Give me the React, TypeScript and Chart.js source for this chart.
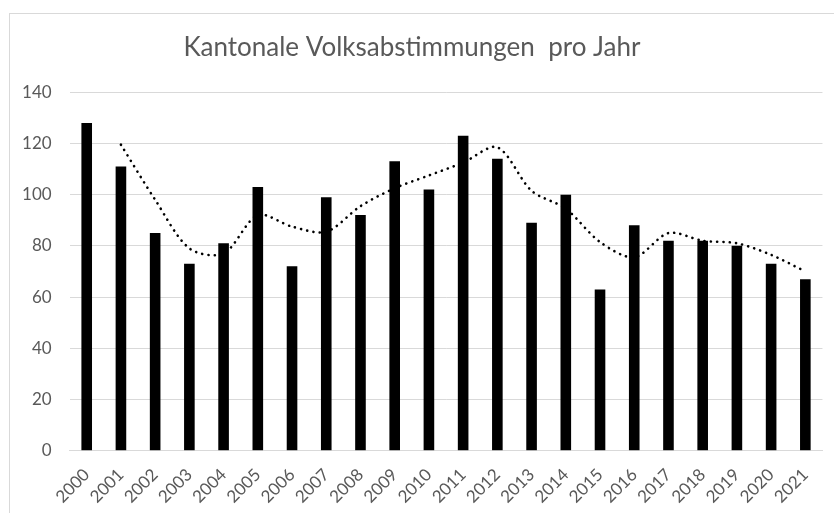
import React, { useEffect, useRef } from "react";
import { Chart, registerables } from "chart.js";

Chart.register(...registerables);

const years = ["2000","2001","2002","2003","2004","2005","2006","2007","2008","2009","2010","2011","2012","2013","2014","2015","2016","2017","2018","2019","2020","2021"];
const votes = [128, 111, 85, 73, 81, 103, 72, 99, 92, 113, 102, 123, 114, 89, 100, 63, 88, 82, 82, 80, 73, 67];
const trend = [null, 119.5, 98, 79, 77, 92, 87.5, 85.5, 95.5, 102.5, 107.5, 112.5, 118.5, 101.5, 94.5, 81.5, 75.5, 85, 82, 81, 76.5, 70];
const yTicks = [0, 20, 40, 60, 80, 100, 120, 140];
const titleText = "Kantonale Volksabstimmungen  pro Jahr";

const FONT = "Lato, 'Open Sans', sans-serif";
const GREY = "#595959";
const GRID = "#d9d9d9";

export default function App() {
  const ref = useRef<HTMLCanvasElement>(null);
  useEffect(() => {
    if (!ref.current) return;
    const chart = new Chart(ref.current, {
      type: "bar",
      data: {
        labels: years,
        datasets: [
          {
            type: "line",
            data: trend as any,
            borderColor: "#000",
            borderWidth: 2.6,
            borderDash: [0.1, 6.2],
            borderCapStyle: "round",
            pointRadius: 0,
            tension: 0.3,
            fill: false,
            spanGaps: false,
            order: 0,
          } as any,
          {
            type: "bar",
            data: votes,
            backgroundColor: "#000",
            borderWidth: 0,
            barPercentage: 1,
            categoryPercentage: 0.31,
            order: 1,
          },
        ],
      },
      options: {
        responsive: false,
        animation: false,
        devicePixelRatio: 1,
        layout: { padding: { left: 0, right: 10.2, top: 0, bottom: 0 } },
        plugins: {
          legend: { display: false },
          tooltip: { enabled: false },
          title: {
            display: true,
            text: titleText,
            color: GREY,
            font: { family: FONT, size: 26, weight: "normal", lineHeight: 1.2 },
            padding: { top: 32, bottom: 29 },
          },
        },
        scales: {
          x: {
            grid: { display: false, drawTicks: false },
            border: { display: true, color: GRID, width: 1 },
            ticks: {
              color: GREY,
              font: { family: FONT, size: 17 },
              maxRotation: 45,
              minRotation: 45,
              padding: 14,
              autoSkip: false,
            },
            afterFit: (s: any) => { s.height = 62.3; },
          },
          y: {
            min: 0,
            max: 140,
            afterBuildTicks: (s: any) => { s.ticks = yTicks.map((v) => ({ value: v })); },
            grid: { color: GRID, lineWidth: 1, drawTicks: false },
            border: { display: false },
            ticks: {
              color: GREY,
              font: { family: FONT, size: 17 },
              padding: 18,
            },
            afterFit: (s: any) => { s.width = 69.6; },
          },
        },
      },
    });
    return () => chart.destroy();
  }, []);

  return (
    <div style={{ position: "fixed", left: 0, top: 0, width: 834, height: 513, overflow: "hidden", background: "#fff" }}>
      <div style={{ position: "absolute", left: 9, top: 13, width: 900, height: 600, border: `1px solid ${GRID}`, boxSizing: "border-box" }} />
      <canvas ref={ref} width={834} height={513} style={{ position: "absolute", left: 0, top: 0, width: 834, height: 513 }} />
    </div>
  );
}
